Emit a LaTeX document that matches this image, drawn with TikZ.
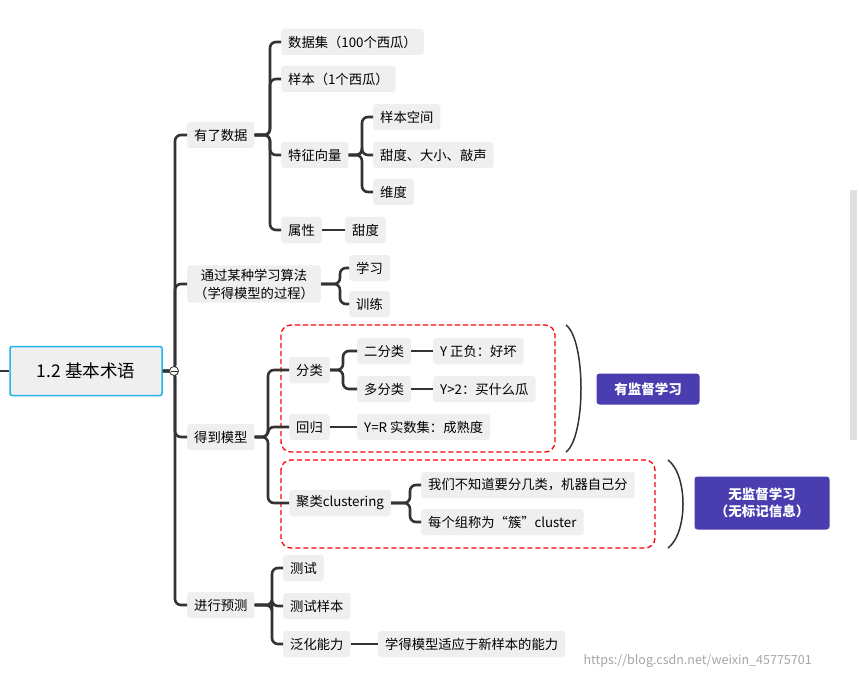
\documentclass[tikz,border=0pt]{standalone}
\usepackage{fontspec}
\setmainfont{Noto Sans CJK SC}
\usetikzlibrary{calc}
\definecolor{ln}{HTML}{333333}
\definecolor{bx}{HTML}{EFEFEF}
\definecolor{pu}{HTML}{4A3DB0}
\definecolor{cy}{HTML}{22B5E8}
\begin{document}
\begin{tikzpicture}[x=1pt,y=-1pt,
 n/.style={fill=bx,rounded corners=3pt,inner xsep=7pt,minimum height=26pt,font=\fontsize{13.3}{15}\selectfont,text=black,anchor=west},
 c/.style={draw=ln,line width=2.6pt,rounded corners=6pt},
 red/.style={draw=red,dashed,line width=1.3pt,rounded corners=10pt,dash pattern=on 5pt off 3pt},
 pb/.style={fill=pu,rounded corners=3pt,text=white,font=\fontsize{13.5}{17}\selectfont\bfseries,align=center}]
\useasboundingbox (0,0) rectangle (859,679);
\fill[white] (0,0) rectangle (859,679);
\fill[black!12] (850,190) rectangle (857,440);
\draw[red] (281,325) rectangle (555,452);
\draw[red] (281,460) rectangle (655,548);
\draw[line width=1.5pt,ln] (566,325) .. controls (586,340) and (586,437) .. (566,452);
\draw[line width=1.5pt,ln] (668,460) .. controls (688,475) and (688,533) .. (668,548);
\node[pb,minimum width=103pt,minimum height=31pt] (sup) at (648,389) {有监督学习};
\node[pb,minimum width=135pt,minimum height=53pt] (uns) at (762,503) {无监督学习\\（无标记信息）};
\node[fill=bx,draw=cy,line width=1.5pt,rounded corners=2pt,minimum width=152pt,minimum height=49pt,font=\fontsize{17.5}{20}\selectfont] (root) at (86,371) {1.2 基本术语};
\coordinate (L) at (0,371);
\draw[c] (L) -- (root.west);
\node[n] (a) at (187,135) {有了数据};
\node[n,align=center,font=\fontsize{13.3}{18}\selectfont] (b) at (187,284) {通过某种学习算法\\（学得模型的过程）};
\node[n] (m) at (187,437) {得到模型};
\node[n] (p) at (187,605) {进行预测};
\foreach \t in {a,b,m,p} \draw[c] (root.east) -- (175,371) |- (\t.west);
\node[draw=ln,fill=white,circle,inner sep=0pt,minimum size=9pt,line width=0.8pt] (col) at (174,371) {};
\draw[ln,line width=0.8pt] (170.5,371) -- (177.5,371);
\node[n] (a1) at (281,42) {数据集（100个西瓜）};
\node[n] (a2) at (281,79) {样本（1个西瓜）};
\node[n] (a3) at (281,155) {特征向量};
\node[n] (a4) at (281,230) {属性};
\foreach \t in {a1,a2,a3,a4} \draw[c] (a.east) -- (270,135) |- (\t.west);
\node[n] (f1) at (373,117) {样本空间};
\node[n] (f2) at (373,155) {甜度、大小、敲声};
\node[n] (f3) at (373,192) {维度};
\foreach \t in {f1,f2,f3} \draw[c] (a3.east) -- (362,155) |- (\t.west);
\node[n] (t1) at (345,230) {甜度};
\draw[c] (a4) -- (t1);
\node[n] (b1) at (349,268) {学习};
\node[n] (b2) at (349,304) {训练};
\foreach \t in {b1,b2} \draw[c] (b.east) -- (340,284) |- (\t.west);
\node[n] (m1) at (289,370) {分类};
\node[n] (m2) at (289,427) {回归};
\node[n] (m3) at (289,503) {聚类clustering};
\foreach \t in {m1,m2,m3} \draw[c] (m.east) -- (268,437) |- (\t.west);
\node[n] (c1) at (357,351) {二分类};
\node[n] (c2) at (357,389) {多分类};
\foreach \t in {c1,c2} \draw[c] (m1.east) -- (343,370) |- (\t.west);
\node[n] (d1) at (433,351) {Y 正负：好坏};
\node[n] (d2) at (433,389) {Y>2：买什么瓜};
\draw[c] (c1) -- (d1); \draw[c] (c2) -- (d2);
\node[n] (r1) at (357,427) {Y=R 实数集：成熟度};
\draw[c] (m2) -- (r1);
\node[n] (k1) at (421,485) {我们不知道要分几类，机器自己分};
\node[n] (k2) at (421,522) {每个组称为“簇”cluster};
\foreach \t in {k1,k2} \draw[c] (m3.east) -- (410,503) |- (\t.west);
\node[n] (p1) at (283,568) {测试};
\node[n] (p2) at (283,606) {测试样本};
\node[n] (p3) at (283,644) {泛化能力};
\foreach \t in {p1,p2,p3} \draw[c] (p.east) -- (272,605) |- (\t.west);
\node[n] (g1) at (378,644) {学得模型适应于新样本的能力};
\draw[c] (p3) -- (g1);
\node[text=black!35,font=\fontsize{12.5}{13}\selectfont,anchor=west] (wm) at (580,661) {https://blog.csdn.net/weixin\_45775701};
\end{tikzpicture}
\end{document}
